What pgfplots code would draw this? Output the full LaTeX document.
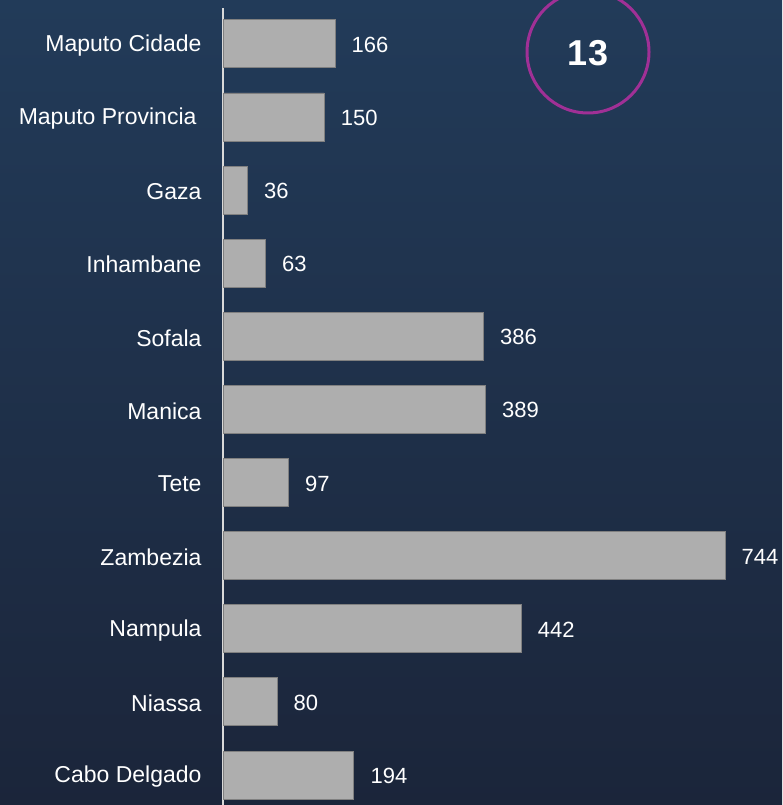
\documentclass[border=0pt]{standalone}
\usepackage{fontspec}
\setmainfont{Liberation Sans}
\usepackage{pgfplots}
\pgfplotsset{compat=1.18}
\definecolor{bgtop}{RGB}{34,59,89}
\definecolor{bgbot}{RGB}{27,37,58}
\definecolor{barfill}{RGB}{174,174,174}
\definecolor{baredge}{RGB}{128,128,128}
\definecolor{ringc}{RGB}{160,48,150}
\definecolor{axlinec}{RGB}{217,217,217}
\begin{document}
\begin{tikzpicture}[x=1pt,y=1pt]
\useasboundingbox (0,0) rectangle (782,805);
\shade[top color=bgtop, bottom color=bgbot] (0,0) rectangle (782,805);
\begin{axis}[
  at={(223pt,0pt)}, anchor=south west,
  scale only axis, width=559pt, height=797pt,
  xmin=0, xmax=828.5,
  ymin=-0.41, ymax=10.49,
  xbar, bar width=48pt,
  axis x line=none,
  axis y line=left,
  axis line style={-, draw=axlinec, line width=1.5pt},
  major tick length=0pt,
  ytick={0,...,10},
  yticklabels={Cabo Delgado,Niassa,Nampula,Zambezia,Tete,Manica,Sofala,Inhambane,Gaza,{Maputo Provincia\kern5pt},Maputo Cidade},
  yticklabel style={font=\fontsize{23}{27}\selectfont, text=white, anchor=east, xshift=-18pt, yshift=-1.5pt},
  nodes near coords,
  nodes near coords style={font=\fontsize{22}{26}\selectfont, text=white, anchor=west, xshift=13pt, yshift=-1pt},
  /pgf/number format/assume math mode=true,
  clip=false,
]
\addplot[fill=barfill, draw=baredge, line width=0.8pt] coordinates {
  (194,0) (80,1) (442,2) (744,3) (97,4) (389,5) (386,6) (63,7) (36,8) (150,9) (166,10)
};
\end{axis}
\begin{scope}
\clip (0,0) rectangle (782,805);
\draw[ringc, line width=3pt] (588,753) circle (61);
\end{scope}
\node[text=white, font=\fontsize{36}{40}\selectfont\bfseries] at (588,752) {13};
\end{tikzpicture}
\end{document}
